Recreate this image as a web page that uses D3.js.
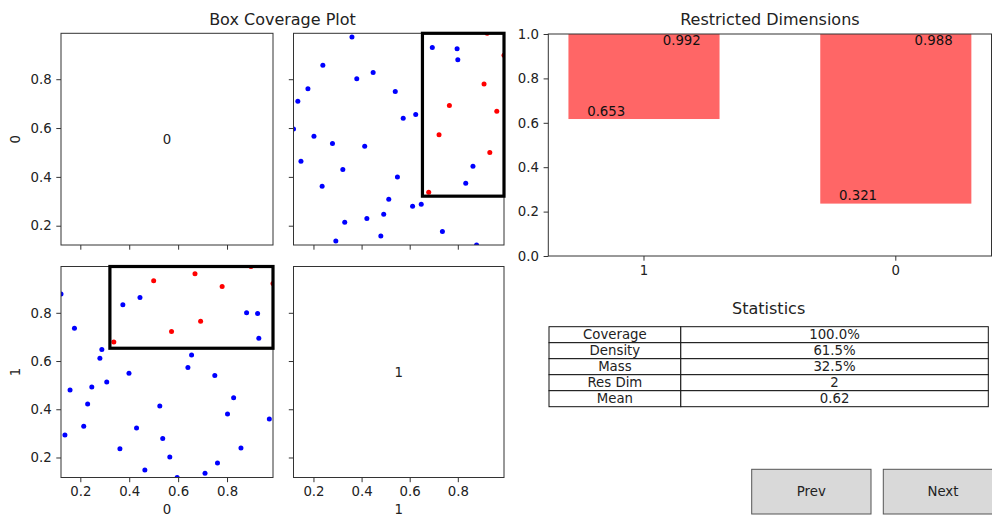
<!DOCTYPE html>
<html><head><meta charset="utf-8">
<script src="https://cdn.jsdelivr.net/npm/d3@7"></script>
<style>body{margin:0;background:#fff;} svg{display:block;font-family:"DejaVu Sans",sans-serif;}</style>
</head><body><svg id="c" width="992" height="515"></svg>
<script>
// ---------- data ----------
const dimNames = ["0", "1"];
const dim0Values = [0.973,0.930,0.925,0.880,0.988,0.857,0.827,0.802,0.761,0.750,
                    0.780,0.710,0.692,0.669,0.640,0.655,0.596,0.566,0.573,0.537,
                    0.525,0.500,0.464,0.444,0.430,0.399,0.374,0.362,0.337,0.308,
                    0.280,0.288,0.214,0.230,0.247,0.176,0.137,0.158,0.121,0.898];
const dim1Values = [0.360,0.694,0.797,0.800,0.922,0.239,0.448,0.380,0.177,0.540,
                    0.909,0.135,0.765,0.962,0.573,0.625,0.117,0.202,0.722,0.279,
                    0.413,0.933,0.148,0.863,0.322,0.549,0.833,0.236,0.679,0.513,
                    0.612,0.648,0.330,0.422,0.492,0.736,0.293,0.480,0.878,0.992];
const pointTarget = [0,0,0,0,1,0,0,0,0,0, 1,0,1,1,0,0,0,0,1,0,
                     0,1,0,0,0,0,0,0,1,0, 0,0,0,0,0,0,0,0,0,1];
const dimLimits = [[0.121, 0.988], [0.117, 0.992]];
const boxLower = [0.321, 0.653];
const boxUpper = [0.988, 0.992];
const scatterTicks = [0.2, 0.4, 0.6, 0.8];

const barCategories = ["1", "0"];
const barBottoms = [0.617, 0.236];
const barTops = [1.0, 1.0];
const barLowLabels = ["0.653", "0.321"];
const barHighLabels = ["0.992", "0.988"];
const barTicks = [0, 0.2, 0.4, 0.6, 0.8, 1.0];

const statNames = ["Coverage", "Density", "Mass", "Res Dim", "Mean"];
const statValues = ["100.0%", "61.5%", "32.5%", "2", "0.62"];
const buttonLabels = ["Prev", "Next"];

// ---------- drawing ----------
const svg = d3.select("#c");
const TXT = "#222";
const FS = 13.3;
const points = dim0Values.map((v, i) => [v, dim1Values[i], pointTarget[i]]);

const panelX = [[61, 273], [293.5, 504]];
const panelY = [[33.3, 245], [266.5, 477.5]];
const tick = 4.7, pad = 4.7;

svg.append("text").attr("x", (61 + 504) / 2).attr("y", 24.5).attr("text-anchor", "middle")
  .attr("font-size", 16).attr("fill", TXT).text("Box Coverage Plot");

const defs = svg.append("defs");

for (let r = 0; r < 2; r++) {
  for (let c = 0; c < 2; c++) {
    const xs = d3.scaleLinear().domain(dimLimits[c]).range(panelX[c]);
    const ys = d3.scaleLinear().domain(dimLimits[r]).range([panelY[r][1], panelY[r][0]]);
    const g = svg.append("g");
    const id = `clip${r}${c}`;
    defs.append("clipPath").attr("id", id).append("rect")
      .attr("x", panelX[c][0]).attr("y", panelY[r][0])
      .attr("width", panelX[c][1] - panelX[c][0]).attr("height", panelY[r][1] - panelY[r][0]);
    const inner = g.append("g").attr("clip-path", `url(#${id})`);
    if (r === c) {
      g.append("text").attr("x", (panelX[c][0] + panelX[c][1]) / 2)
        .attr("y", (panelY[r][0] + panelY[r][1]) / 2).attr("dy", "0.35em")
        .attr("text-anchor", "middle").attr("font-size", FS).attr("fill", TXT).text(dimNames[r]);
    } else {
      inner.selectAll("circle").data(points).enter().append("circle")
        .attr("cx", d => xs(d[c])).attr("cy", d => ys(d[r])).attr("r", 2.5)
        .attr("fill", d => d[2] ? "red" : "blue");
    }
    // frame
    g.append("rect").attr("x", panelX[c][0]).attr("y", panelY[r][0])
      .attr("width", panelX[c][1] - panelX[c][0]).attr("height", panelY[r][1] - panelY[r][0])
      .attr("fill", "none").attr("stroke", "#333").attr("stroke-width", 1);
    if (r !== c) {
      g.append("rect")
        .attr("x", xs(boxLower[c])).attr("y", ys(boxUpper[r]))
        .attr("width", xs(boxUpper[c]) - xs(boxLower[c]))
        .attr("height", ys(boxLower[r]) - ys(boxUpper[r]))
        .attr("fill", "none").attr("stroke", "black").attr("stroke-width", 3.2);
    }
    const ax = g.append("g").attr("transform", `translate(${panelX[c][0]},0)`)
      .call(d3.axisLeft(ys).tickValues(scatterTicks).tickSize(tick).tickPadding(pad)
        .tickFormat(c === 0 ? d3.format(".1f") : () => ""));
    const bx = g.append("g").attr("transform", `translate(0,${panelY[r][1]})`)
      .call(d3.axisBottom(xs).tickValues(scatterTicks).tickSize(tick).tickPadding(pad)
        .tickFormat(r === 1 ? d3.format(".1f") : () => ""));
    [ax, bx].forEach(a => {
      a.select(".domain").remove();
      a.selectAll("line").attr("stroke", "#333");
      a.selectAll("text").attr("font-size", FS).attr("fill", TXT).attr("font-family", "DejaVu Sans");
    });
  }
}
// axis labels
svg.append("text").attr("transform", `translate(19.5,${(panelY[0][0] + panelY[0][1]) / 2}) rotate(-90)`)
  .attr("text-anchor", "middle").attr("font-size", FS).attr("fill", TXT).text(dimNames[0]);
svg.append("text").attr("transform", `translate(19.5,${(panelY[1][0] + panelY[1][1]) / 2}) rotate(-90)`)
  .attr("text-anchor", "middle").attr("font-size", FS).attr("fill", TXT).text(dimNames[1]);
svg.append("text").attr("x", (panelX[0][0] + panelX[0][1]) / 2).attr("y", 513.5)
  .attr("text-anchor", "middle").attr("font-size", FS).attr("fill", TXT).text(dimNames[0]);
svg.append("text").attr("x", (panelX[1][0] + panelX[1][1]) / 2).attr("y", 513.5)
  .attr("text-anchor", "middle").attr("font-size", FS).attr("fill", TXT).text(dimNames[1]);

// ---------- bar chart ----------
const bL = 548.3, bR = 991.5, bT = 34, bB = 256;
const bx = d3.scaleBand().domain(barCategories).range([bL, bR]).paddingInner(0.4).paddingOuter(0.08);
const by = d3.scaleLinear().domain([0, 1]).range([bB, bT]);
const bg = svg.append("g");
svg.append("text").attr("x", (bL + bR) / 2).attr("y", 24.5).attr("text-anchor", "middle")
  .attr("font-size", 16).attr("fill", TXT).text("Restricted Dimensions");
bg.selectAll("rect.bar").data(barCategories).enter().append("rect").attr("class", "bar")
  .attr("x", d => bx(d)).attr("width", bx.bandwidth())
  .attr("y", (d, i) => by(barTops[i])).attr("height", (d, i) => by(barBottoms[i]) - by(barTops[i]))
  .attr("fill", "#ff6666");
const unit = bx.step();
bg.selectAll("text.lo").data(barCategories).enter().append("text").attr("class", "lo")
  .attr("x", d => bx(d) + bx.bandwidth() / 2 - 0.15 * unit)
  .attr("y", (d, i) => by(barBottoms[i]) - 3.3)
  .attr("text-anchor", "middle").attr("font-size", FS).attr("fill", "#111")
  .text((d, i) => barLowLabels[i]);
bg.selectAll("text.hi").data(barCategories).enter().append("text").attr("class", "hi")
  .attr("x", d => bx(d) + bx.bandwidth() / 2 + 0.15 * unit)
  .attr("y", (d, i) => by(barTops[i]) + 10.6)
  .attr("text-anchor", "middle").attr("font-size", FS).attr("fill", "#111")
  .text((d, i) => barHighLabels[i]);
bg.append("rect").attr("x", bL).attr("y", bT).attr("width", bR - bL).attr("height", bB - bT)
  .attr("fill", "none").attr("stroke", "#333").attr("stroke-width", 1);
const bya = bg.append("g").attr("transform", `translate(${bL},0)`)
  .call(d3.axisLeft(by).tickValues(barTicks).tickSize(tick).tickPadding(pad).tickFormat(d3.format(".1f")));
const bxa = bg.append("g").attr("transform", `translate(0,${bB})`)
  .call(d3.axisBottom(bx).tickSize(tick).tickPadding(pad));
[bya, bxa].forEach(a => {
  a.select(".domain").remove();
  a.selectAll("line").attr("stroke", "#333");
  a.selectAll("text").attr("font-size", FS).attr("fill", TXT).attr("font-family", "DejaVu Sans");
});

// ---------- statistics table ----------
const tL = 549, tR = 988.3, tT = 326.7, rowH = 16;
const colX = [tL, tL + (tR - tL) * 0.3, tR];
svg.append("text").attr("x", (tL + tR) / 2).attr("y", 313.5).attr("text-anchor", "middle")
  .attr("font-size", 16).attr("fill", TXT).text("Statistics");
const tg = svg.append("g");
statNames.forEach((name, i) => {
  const y = tT + i * rowH;
  [name, statValues[i]].forEach((t, j) => {
    tg.append("rect").attr("x", colX[j]).attr("y", y).attr("width", colX[j + 1] - colX[j])
      .attr("height", rowH).attr("fill", "white").attr("stroke", "#111").attr("stroke-width", 1);
    tg.append("text").attr("x", (colX[j] + colX[j + 1]) / 2).attr("y", y + rowH / 2)
      .attr("dy", "0.36em").attr("text-anchor", "middle").attr("font-size", FS).attr("fill", TXT).text(t);
  });
});

// ---------- buttons ----------
const btnX = [751.7, 883.3], btnW = 119.3, btnT = 469.3, btnH = 44.7;
buttonLabels.forEach((lab, i) => {
  svg.append("rect").attr("x", btnX[i]).attr("y", btnT).attr("width", btnW).attr("height", btnH)
    .attr("fill", "#d9d9d9").attr("stroke", "#555").attr("stroke-width", 1);
  svg.append("text").attr("x", btnX[i] + btnW / 2).attr("y", btnT + btnH / 2).attr("dy", "0.36em")
    .attr("text-anchor", "middle").attr("font-size", FS).attr("fill", TXT).text(lab);
});
</script></body></html>
